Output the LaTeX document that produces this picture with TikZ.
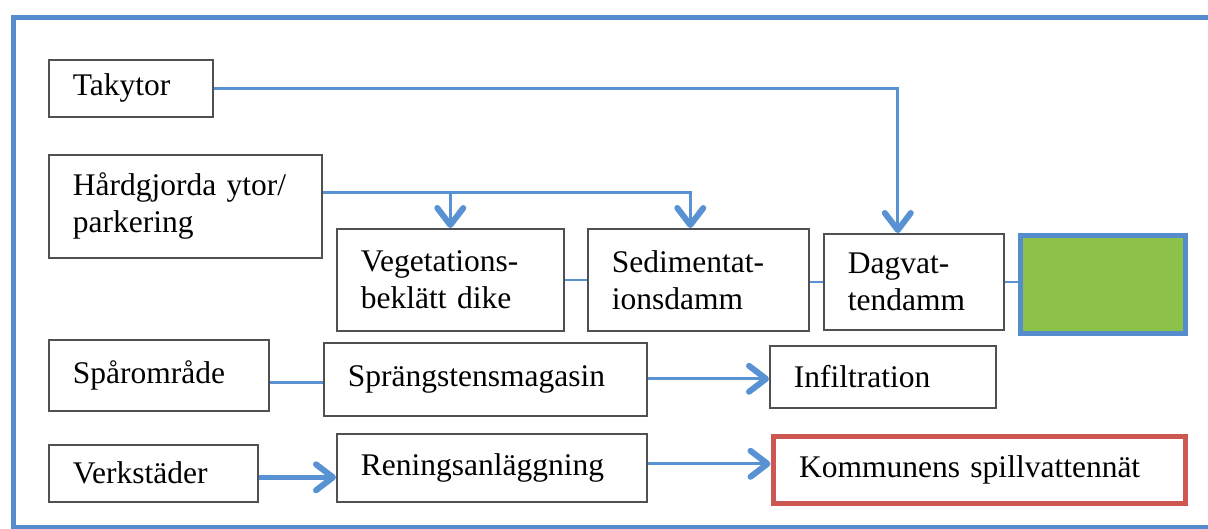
\documentclass[tikz,border=0pt]{standalone}
\usepackage{fontspec}
\setmainfont{Liberation Serif}
\usetikzlibrary{arrows.meta}
\definecolor{lineblue}{RGB}{88,146,210}
\definecolor{frameblue}{RGB}{84,140,205}
\definecolor{boxgreen}{RGB}{140,193,74}
\definecolor{boxred}{RGB}{205,88,82}
\definecolor{boxgray}{RGB}{80,80,80}
\begin{document}
\begin{tikzpicture}[x=1pt,y=-1pt,
  box/.style={draw=boxgray, line width=1.6pt, anchor=north west, align=left,
    inner xsep=24pt, inner ysep=0pt, font=\fontsize{31.5}{37}\selectfont},
  conn/.style={draw=lineblue, line width=2.8pt},
  arr/.style={conn, -{Straight Barb[length=17pt,width=26pt,line width=6pt,round]}},
  thickarr/.style={conn, line width=4.5pt, -{Straight Barb[length=17pt,width=26pt,line width=6pt,round]}}]
\useasboundingbox (0,0) rectangle (1208,528);
\clip (0,0) rectangle (1208,528);
\draw[frameblue, line width=5pt] (13,17) rectangle (1250,527);

\node[box, minimum width=164pt, minimum height=57pt, text width=116pt] (tak) at (48,59) {Takytor};
\node[box, minimum width=273pt, minimum height=103pt, text width=225pt] (hard) at (48,154) {Hårdgjorda ytor/\\parkering};
\node[box, minimum width=227pt, minimum height=102pt, text width=179pt] (veg) at (336,228) {Vegetations-\\beklätt dike};
\node[box, minimum width=221pt, minimum height=102pt, text width=173pt] (sed) at (587,228) {Sedimentat-\\ionsdamm};
\node[box, minimum width=180pt, minimum height=96pt, text width=132pt] (dag) at (823,233) {Dagvat-\\tendamm};
\node[draw=frameblue, line width=6pt, fill=white, anchor=north west, minimum width=164pt, minimum height=97pt] (grn) at (1018,233) {};
\fill[boxgreen] ([shift={(5,5)}]grn.north west) rectangle ([shift={(-5,-5)}]grn.south east);
\node[box, minimum width=220pt, minimum height=71pt, text width=172pt] (spar) at (48,339) {Spårområde};
\node[box, minimum width=323pt, minimum height=73pt, text width=275pt] (spr) at (323,342) {Sprängstensmagasin};
\node[box, minimum width=226pt, minimum height=62pt, text width=178pt] (inf) at (769,345) {Infiltration};
\node[box, minimum width=209pt, minimum height=57pt, text width=161pt] (verk) at (48,444) {Verkstäder};
\node[box, minimum width=310pt, minimum height=68pt, text width=262pt] (ren) at (336,433) {Reningsanläggning};
\node[box, draw=boxred, line width=5pt, inner xsep=26pt, minimum width=412pt, minimum height=67pt, text width=360pt] (kom) at (770.5,433.5) {Kommunens spillvattennät};

% connectors
\draw[arr] (tak.east) -| ([xshift=-16pt]dag.north);
\coordinate (h1) at ([yshift=14pt]hard.east);
\draw[arr] (h1) -| ([xshift=-8pt]sed.north);
\draw[arr] (h1 -| veg.north) -- (veg.north);
\draw[conn, line width=2pt] (veg.east) -- (veg.east -| sed.west);
\draw[conn, line width=2pt] ([yshift=-2pt]sed.east) -- ([yshift=-2pt]sed.east -| dag.west);
\draw[conn, line width=2pt] ([yshift=-2pt]sed.east -| dag.east) -- ([yshift=-2pt]sed.east -| grn.west);
\draw[conn] ([yshift=-3pt]spr.west -| spar.east) -- ([yshift=-3pt]spr.west);
\draw[arr] ([yshift=-2pt]inf.west -| spr.east) -- ([yshift=-2pt]inf.west);
\coordinate (v1) at ([yshift=-4pt]verk.east);
\draw[thickarr] (v1) -- (v1 -| ren.west);
\coordinate (r1) at ([yshift=4pt]ren.east);
\draw[arr] (r1) -- (r1 -| kom.west);
\end{tikzpicture}
\end{document}
